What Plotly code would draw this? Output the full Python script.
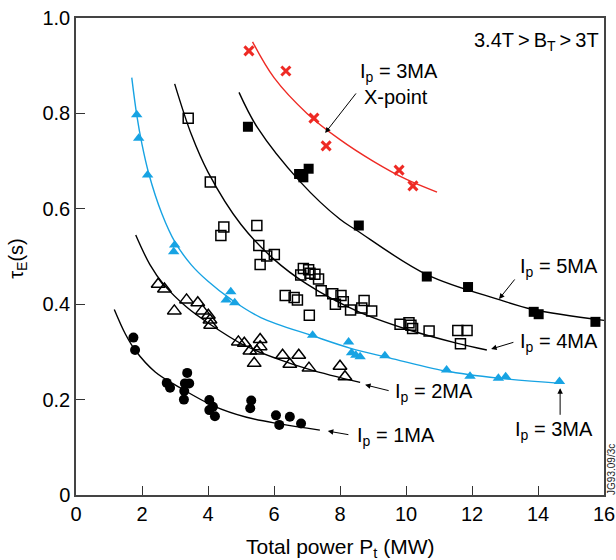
import plotly.graph_objects as go

# ---------------- data ----------------
p_1ma = [1.74, 1.79, 2.75, 2.85, 3.37, 3.30, 3.43, 3.28, 3.27, 4.04, 4.15, 4.04, 4.21,
         5.31, 5.28, 6.06, 6.48, 6.16, 6.82]
tau_1ma = [0.330, 0.304, 0.235, 0.225, 0.256, 0.234, 0.234, 0.218, 0.200, 0.199, 0.185,
           0.178, 0.165, 0.198, 0.182, 0.167, 0.164, 0.147, 0.150]

p_2ma = [2.49, 2.68, 3.35, 2.98, 3.69, 3.83, 4.01, 4.06, 4.08, 4.92, 5.10, 5.27, 5.58,
         5.58, 5.48, 5.40, 6.26, 6.75, 6.48, 7.06, 8.00, 8.15]
tau_2ma = [0.442, 0.432, 0.409, 0.386, 0.403, 0.386, 0.377, 0.367, 0.356, 0.321, 0.318,
           0.302, 0.326, 0.311, 0.302, 0.276, 0.293, 0.293, 0.274, 0.266, 0.270, 0.248]

p_3ma = [1.84, 1.90, 2.17, 2.99, 2.96, 4.69, 4.55, 4.81, 7.17, 8.26, 8.35, 8.48, 8.61,
         9.36, 11.23, 11.94, 12.80, 13.02, 14.65]
tau_3ma = [0.797, 0.748, 0.671, 0.524, 0.510, 0.426, 0.409, 0.403, 0.335, 0.321, 0.298,
           0.293, 0.290, 0.292, 0.262, 0.249, 0.245, 0.248, 0.238]

p_4ma = [3.40, 4.07, 4.48, 4.39, 5.48, 5.54, 5.78, 6.01, 5.58, 6.89, 7.05, 6.81, 7.09,
         7.24, 7.35, 6.34, 6.61, 6.71, 7.43, 7.78, 8.03, 7.86, 8.10, 8.73, 8.32, 8.66,
         8.96, 7.07, 9.82, 10.09, 10.15, 10.20, 10.70, 11.57, 11.85, 11.65]
tau_4ma = [0.790, 0.656, 0.562, 0.544, 0.565, 0.523, 0.501, 0.504, 0.483, 0.475, 0.472,
           0.461, 0.465, 0.463, 0.453, 0.418, 0.414, 0.409, 0.428, 0.422, 0.418, 0.400,
           0.405, 0.408, 0.388, 0.392, 0.386, 0.377, 0.358, 0.361, 0.356, 0.349, 0.344,
           0.345, 0.345, 0.317]

p_5ma = [5.21, 6.76, 6.89, 7.05, 8.57, 10.63, 11.88, 13.87, 14.02, 15.74]
tau_5ma = [0.772, 0.673, 0.666, 0.684, 0.565, 0.458, 0.436, 0.384, 0.379, 0.363]

p_xpt = [5.24, 6.36, 7.21, 7.58, 9.79, 10.21]
tau_xpt = [0.931, 0.889, 0.790, 0.732, 0.681, 0.648]

# fitted curves, points
fit_1ma_p = [1.16, 1.5, 1.8, 2.4, 3.15, 4.16, 5.17, 6.18, 7.39]
fit_1ma_tau = [0.389, 0.337, 0.303, 0.258, 0.225, 0.187, 0.163, 0.149, 0.136]
fit_2ma_p = [1.81, 2.24, 2.65, 3.35, 4.06, 5.07, 6.08, 7.09, 8.61]
fit_2ma_tau = [0.545, 0.483, 0.442, 0.394, 0.358, 0.315, 0.286, 0.263, 0.236]
fit_3ma_p = [1.69, 1.84, 2.0, 2.2, 2.6, 3.0, 3.5, 4.0, 4.7, 5.6, 7.2, 8.3, 9.4, 11.2, 12.8, 14.7]
fit_3ma_tau = [0.875, 0.797, 0.735, 0.675, 0.590, 0.530, 0.482, 0.448, 0.410, 0.372, 0.333,
               0.308, 0.289, 0.260, 0.245, 0.234]
fit_4ma_p = [2.99, 3.5, 4.0, 5.0, 6.0, 7.0, 8.5, 10.0, 11.5, 12.45]
fit_4ma_tau = [0.862, 0.755, 0.677, 0.567, 0.494, 0.442, 0.386, 0.348, 0.319, 0.304]
fit_5ma_p = [4.94, 5.5, 6.79, 8.0, 8.5, 10.63, 12.85, 13.85, 16.0]
fit_5ma_tau = [0.844, 0.770, 0.657, 0.578, 0.555, 0.462, 0.409, 0.389, 0.366]
fit_xpt_p = [5.35, 6.0, 7.0, 8.0, 9.0, 10.0, 10.94]
fit_xpt_tau = [0.950, 0.875, 0.800, 0.745, 0.700, 0.662, 0.635]

x_ticks = [0, 2, 4, 6, 8, 10, 12, 14, 16]
y_ticks = [0, 0.2, 0.4, 0.6, 0.8, 1.0]
y_tick_labels = ["0", "0.2", "0.4", "0.6", "0.8", "1.0"]

# ---------------- styling ----------------
BLUE = "#17A3E3"
RED = "#EE2A24"
BLACK = "#000000"
FONT = "Liberation Sans, Arial, sans-serif"

fig = go.Figure()

def line(px, py, color):
    fig.add_trace(go.Scatter(x=px, y=py, mode="lines",
                             line=dict(color=color, width=1.4, shape="spline"),
                             hoverinfo="skip", showlegend=False))

line(fit_1ma_p, fit_1ma_tau, BLACK)
line(fit_2ma_p, fit_2ma_tau, BLACK)
line(fit_3ma_p, fit_3ma_tau, BLUE)
line(fit_4ma_p, fit_4ma_tau, BLACK)
line(fit_5ma_p, fit_5ma_tau, BLACK)
line(fit_xpt_p, fit_xpt_tau, RED)

def pts(px, py, symbol, color, size, lw=1.5):
    fig.add_trace(go.Scatter(x=px, y=py, mode="markers",
                             marker=dict(symbol=symbol, size=size, color=color,
                                         line=dict(color=color, width=lw)),
                             showlegend=False))

pts(p_1ma, tau_1ma, "circle", BLACK, 10, 0)
pts(p_2ma, tau_2ma, "triangle-up-open", BLACK, 12, 1.5)
pts(p_3ma, tau_3ma, "triangle-up", BLUE, 10, 0)
pts(p_4ma, tau_4ma, "square-open", BLACK, 10, 1.5)
pts(p_5ma, tau_5ma, "square", BLACK, 10, 0)
pts(p_xpt, tau_xpt, "x-thin", RED, 9, 3)

ann = []
tf = dict(family=FONT, size=20, color="black")

def label(x, y, text, anchor="left"):
    ann.append(dict(x=x, y=y, xref="x", yref="y", text=text, showarrow=False,
                    xanchor=anchor, yanchor="middle", font=tf))

def arrow(x0, y0, x1, y1):
    ann.append(dict(x=x1, y=y1, ax=x0, ay=y0, xref="x", yref="y", axref="x", ayref="y",
                    text="", showarrow=True, arrowhead=2, arrowsize=1.1, arrowwidth=1,
                    arrowcolor="black"))

ann.append(dict(x=15.9, y=0.950, xref="x", yref="y",
                text="3.4T\u2009>\u2009B<sub>T</sub>\u2009>\u20093T", showarrow=False,
                xanchor="right", yanchor="middle", font=dict(family=FONT, size=20)))
label(8.55, 0.885, "I<sub>p</sub> = 3MA")
label(8.67, 0.834, "X-point")
arrow(8.52, 0.845, 7.55, 0.759)
label(13.39, 0.476, "I<sub>p</sub> = 5MA")
arrow(13.33, 0.455, 12.82, 0.411)
label(13.39, 0.319, "I<sub>p</sub> = 4MA")
arrow(13.30, 0.321, 12.58, 0.306)
label(9.61, 0.214, "I<sub>p</sub> = 2MA")
arrow(9.52, 0.218, 8.76, 0.231)
label(8.45, 0.122, "I<sub>p</sub> = 1MA")
arrow(8.30, 0.126, 7.63, 0.134)
label(13.24, 0.135, "I<sub>p</sub> = 3MA")
arrow(14.67, 0.165, 14.67, 0.224)

# axis titles and figure code as text
ann.append(dict(x=0.5, y=-0.111, xref="paper", yref="paper",
                text="Total power P<sub>t</sub> (MW)", showarrow=False,
                xanchor="center", yanchor="middle", font=dict(family=FONT, size=21)))
ann.append(dict(x=-0.11, y=0.497, xref="paper", yref="paper",
                text="\u03c4<sub>E</sub>(s)", showarrow=False, textangle=-90,
                xanchor="center", yanchor="middle", font=tf))
ann.append(dict(x=1.0, y=-0.004, xref="paper", yref="paper", text="JG93.09/3c",
                textangle=-90, showarrow=False, xanchor="left", yanchor="bottom",
                font=dict(family=FONT, size=10, color="#222")))

fig.update_layout(
    width=616, height=560,
    margin=dict(l=76, r=12, t=18, b=65),
    plot_bgcolor="white", paper_bgcolor="white",
    font=dict(family=FONT, size=20, color="black"),
    annotations=ann,
    xaxis=dict(range=[0, 16], tickvals=x_ticks, ticks="inside", ticklen=9, tickwidth=1.2,
               tickcolor="#333", showline=True, linecolor="#444", linewidth=1.5, mirror=True,
               showgrid=False, zeroline=False, tickfont=dict(size=20), automargin=False),
    yaxis=dict(range=[0, 1], tickvals=y_ticks, ticktext=y_tick_labels, ticks="inside",
               ticklen=9, tickwidth=1.2, tickcolor="#333", showline=True, linecolor="#444",
               linewidth=1.5, mirror=True, showgrid=False, zeroline=False,
               tickfont=dict(size=20), automargin=False),
)

fig.write_html("out.html",
               config={"displayModeBar": False},
               post_script="document.body.style.margin='0';"
                           "document.body.style.overflow='hidden';")
